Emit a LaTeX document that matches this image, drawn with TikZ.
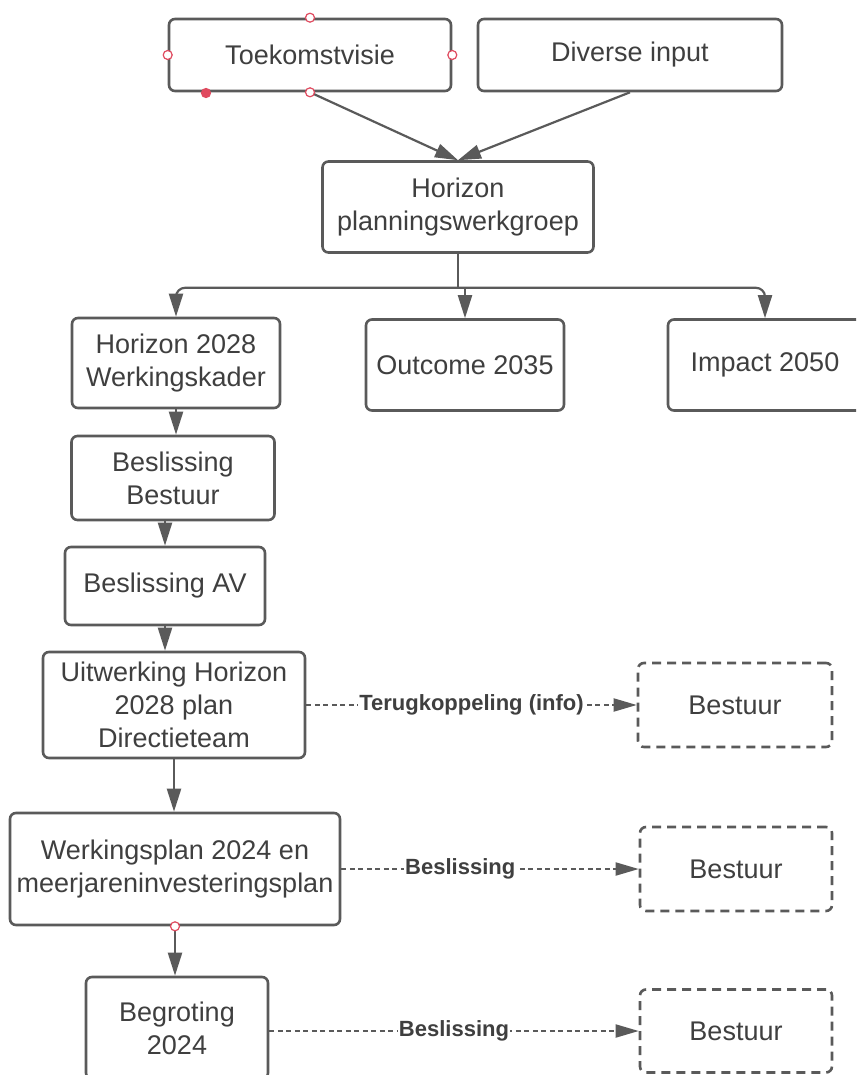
\documentclass[tikz,border=0pt]{standalone}
\usepackage{fontspec}
\setmainfont{Liberation Sans}
\usetikzlibrary{arrows.meta,calc}

\definecolor{linegray}{HTML}{5A5A5A}
\definecolor{textgray}{HTML}{3F3F3F}
\definecolor{handlered}{HTML}{E04A5F}

\begin{document}
\begin{tikzpicture}[
    x=1pt, y=-1pt,
    >={Triangle[length=23pt,width=14pt]},
    box/.style={draw=linegray, line width=2.6pt, rounded corners=6pt, fill=white, align=center, inner sep=0pt, text=textgray, font=\fontsize{27}{33}\selectfont},
    dbox/.style={box, dash pattern=on 9pt off 6pt},
    line/.style={draw=linegray, line width=2.2pt},
    dline/.style={draw=linegray, line width=1.9pt, dash pattern=on 5pt off 3.5pt, -{Triangle[length=23pt,width=13pt]}},
    lbl/.style={fill=white, inner sep=1pt, text=textgray, font=\bfseries\fontsize{22}{24}\selectfont},
    handle/.style={circle, draw=handlered, fill=white, line width=1.2pt, inner sep=0pt, minimum size=9pt}
]

    % Page frame
    \useasboundingbox (0,0) rectangle (856,1075);
    \clip (0,0) rectangle (856,1075);

    % Inputs
    \node[box, minimum width=282pt, minimum height=72pt] (visie) at (310,55) {Toekomstvisie};
    \node[box, minimum width=304pt, minimum height=72pt] (input) at (630,55) {Diverse input};

    % Working group
    \node[box, minimum width=271pt, minimum height=91pt] (werkgroep) at (458,207) {Horizon\\planningswerkgroep};
    \draw[line, ->] (visie.south) -- (werkgroep.north);
    \draw[line, ->] (input.south) -- (werkgroep.north);

    % Horizons
    \node[box, minimum width=208pt, minimum height=90pt] (kader) at (176,363) {Horizon 2028\\Werkingskader};
    \node[box, minimum width=198pt, minimum height=91pt] (outcome) at (465,365) {Outcome 2035};
    \node[box, minimum width=194pt, minimum height=91pt] (impact) at (765,365) {Impact 2050};

    \coordinate (split) at ($(werkgroep.south)+(0,34)$);
    \draw[line] (werkgroep.south) -- (split);
    \draw[line, ->, rounded corners=9pt] (split) -| (kader.north);
    \draw[line, ->] (split) -| (outcome.north);
    \draw[line, ->, rounded corners=9pt] (split) -| (impact.north);

    % Decisions
    \node[box, minimum width=203pt, minimum height=84pt] (bestuur) at (173,478) {Beslissing\\Bestuur};
    \node[box, minimum width=200pt, minimum height=78pt] (av) at (165,586) {Beslissing AV};
    \draw[line, ->] (kader.south) -- (kader.south |- bestuur.north);
    \draw[line, ->] (bestuur.south -| av.north) -- (av.north);

    % Elaboration
    \node[box, minimum width=262pt, minimum height=106pt] (uitwerking) at (174,705) {Uitwerking Horizon\\2028 plan\\Directieteam};
    \node[box, minimum width=330pt, minimum height=112pt] (werkplan) at (175,869) {Werkingsplan 2024 en\\meerjareninvesteringsplan};
    \node[box, minimum width=182pt, minimum height=102pt] (begroting) at (177,1028) {Begroting\\2024};
    \draw[line, ->] (av.south) -- (av.south |- uitwerking.north);
    \draw[line, ->] (uitwerking.south) -- (uitwerking.south |- werkplan.north);
    \draw[line, ->] (werkplan.south) -- (werkplan.south |- begroting.north);

    % Board feedback
    \node[dbox, minimum width=194pt, minimum height=84pt] (bestuur1) at (735,705) {Bestuur};
    \node[dbox, minimum width=192pt, minimum height=84pt] (bestuur2) at (736,869) {Bestuur};
    \node[dbox, minimum width=192pt, minimum height=83pt] (bestuur3) at (736,1031) {Bestuur};

    \draw[dline] (uitwerking.east) -- (bestuur1.west) node[lbl, pos=0.5] {Terugkoppeling (info)};
    \draw[dline] (werkplan.east) -- (werkplan.east -| bestuur2.west) node[lbl, pos=0.4] {Beslissing};
    \draw[dline] (begroting.east |- bestuur3.west) -- (bestuur3.west) node[lbl, pos=0.5] {Beslissing};

    % Selection handles
    \node[handle] at (visie.north) {};
    \node[handle] at (visie.west) {};
    \node[handle] at (visie.east) {};
    \node[handle] at (visie.south) {};
    \node[handle, fill=handlered] at (206,93) {};
    \node[handle] at (werkplan.south) {};

\end{tikzpicture}
\end{document}
